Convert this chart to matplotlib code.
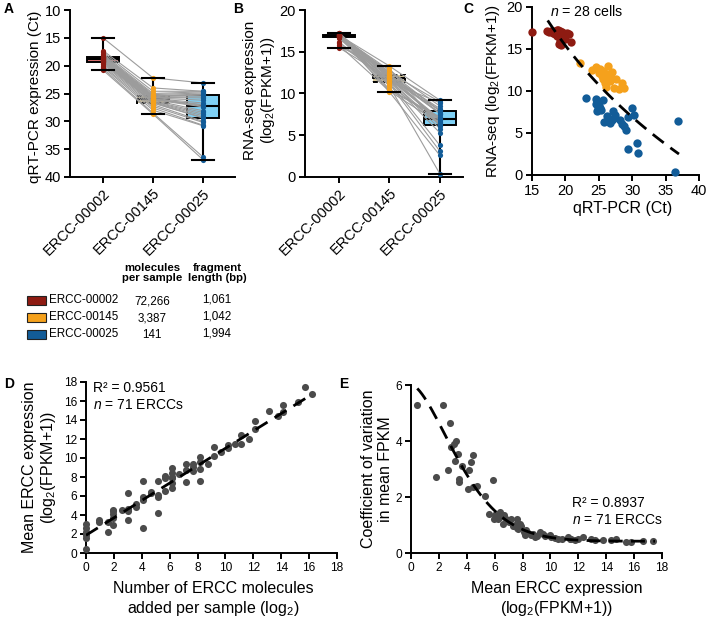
import numpy as np
import matplotlib
matplotlib.use("Agg")
import matplotlib.pyplot as plt
from matplotlib.patches import Rectangle

plt.rcParams['font.family'] = ['Liberation Sans', 'DejaVu Sans']
plt.rcParams['mathtext.fontset'] = 'custom'
plt.rcParams['mathtext.rm'] = 'Liberation Sans'
plt.rcParams['mathtext.it'] = 'Liberation Sans:italic'

# ---------------- data ----------------
erccs = ["ERCC-00002", "ERCC-00145", "ERCC-00025"]
molecules = ["72,266", "3,387", "141"]
frag_len = ["1,061", "1,042", "1,994"]

# per-cell qRT-PCR Ct (28 cells)
ct_00002 = [15.0, 17.3, 17.6, 17.9, 18.1, 18.2, 18.4, 18.4, 18.5, 18.6, 18.7, 18.7, 18.8, 18.8,
            18.8, 18.9, 19.0, 19.1, 19.2, 19.2, 19.3, 19.3, 19.5, 19.7, 20.0, 20.2, 20.5, 20.8]
ct_00145 = [22.2, 24.0, 24.6, 25.0, 25.2, 25.4, 25.5, 25.5, 25.6, 25.7, 25.8, 25.9, 26.0, 26.0,
            26.0, 26.1, 26.2, 26.4, 26.5, 26.6, 26.7, 26.7, 27.0, 27.3, 27.6, 28.0, 28.5, 28.7]
ct_00025 = [23.1, 24.6, 24.6, 24.7, 24.9, 25.1, 25.2, 25.3, 25.6, 25.8, 26.2, 26.7, 27.0, 27.1,
            27.3, 27.4, 28.1, 28.4, 28.7, 29.0, 29.3, 29.4, 30.0, 30.2, 30.7, 30.8, 36.4, 36.9]
# per-cell RNA-seq log2(FPKM+1)
rs_00002 = [17.0, 17.1, 17.0, 17.1, 17.0, 16.9, 17.2, 16.8, 17.0, 16.9, 17.3, 16.8, 17.0, 16.9,
            16.6, 17.3, 16.9, 15.6, 17.1, 16.0, 16.8, 15.5, 17.0, 16.9, 16.2, 16.9, 16.8, 15.8]
rs_00145 = [13.3, 12.5, 12.8, 12.2, 12.6, 12.1, 11.8, 12.2, 11.4, 12.4, 11.9, 11.6, 11.0, 12.0,
            11.7, 10.5, 12.0, 13.0, 11.6, 11.5, 11.2, 11.8, 12.3, 10.4, 11.4, 10.2, 10.9, 10.3]
rs_00025 = [9.2, 9.0, 8.5, 7.6, 7.9, 8.2, 8.0, 7.7, 8.9, 6.3, 7.0, 6.2, 6.5, 7.6,
            6.8, 7.2, 6.6, 6.1, 5.8, 5.3, 3.1, 6.9, 8.0, 7.1, 3.8, 2.6, 0.4, 6.4]

# panel C fit (log model coefficients)
c_fit_a, c_fit_b, c_fit_x0 = 18.4, -21.0, 17.35
c_fit_range = (17.35, 37.0)

# panel D: log2 molecules vs mean expression (71 ERCCs)
d_x = [15.7, 16.2, 15.2, 14.15, 14.15, 13.75, 13.15, 12.15, 12.15, 11.7, 11.15, 11.15, 10.7,
       10.15, 10.15, 9.7, 9.15, 9.15, 8.75, 8.15, 8.15, 8.15, 8.15, 7.65, 7.65, 7.15, 7.15, 7.15,
       6.7, 6.15, 6.15, 6.15, 6.15, 6.15, 5.65, 5.65, 5.15, 5.15, 5.15, 5.15, 4.65, 4.1, 4.1, 4.1,
       4.1, 3.6, 3.6, 3.0, 3.0, 3.0, 2.55, 1.95, 1.95, 1.95, 1.95, 1.6, 1.6, 0.95, 0.95, 0, 0, 0,
       0, 0, 6.15, 7.65, 5.65, 4.65, 1.95, 3.0, 0]
d_y = [17.45, 16.7, 15.9, 15.6, 14.85, 14.45, 15.0, 13.85, 13.05, 12.05, 12.4, 11.45, 11.45,
       11.35, 11.1, 10.6, 11.2, 10.2, 9.4, 10.1, 9.6, 8.8, 7.6, 9.4, 9.05, 9.4, 8.7, 7.5,
       8.3, 9.0, 8.45, 7.9, 7.4, 6.85, 8.1, 6.5, 7.6, 6.1, 5.9, 4.25, 6.45, 7.6, 5.9, 5.6,
       2.6, 5.2, 4.85, 6.3, 4.4, 3.5, 4.55, 4.5, 4.15, 3.7, 2.9, 3.25, 2.25, 3.5, 3.25, 3.1, 2.6, 1.9,
       1.6, 0.45, 8.0, 8.6, 7.9, 6.3, 4.4, 4.6, 2.2]
d_fit_intercept, d_fit_slope = 1.87, 0.915
d_fit_range = (0.0, 16.2)

# panel E: mean expression vs coefficient of variation
e_x = [0.4, 2.27, 2.8, 3.22, 3.08, 2.9, 3.39, 3.15, 3.63, 2.63, 1.79, 4.42, 4.27, 4.18, 3.46,
       3.46, 5.9, 4.1, 4.46, 4.7, 5.3,
       5.6, 5.94, 6.13, 6.37, 6.25, 6.6, 6.66, 7.2, 7.57, 7.45, 7.68, 7.8, 8.16, 8.28, 8.76, 8.88,
       9.24, 9.47, 9.95, 10.07, 10.55, 11.26, 11.38, 11.74, 12.34, 12.94, 13.77, 14.37, 14.73,
       15.8, 16.63, 17.35,
       6.0, 6.4, 6.8, 7.0, 7.3, 7.6, 7.9, 8.1, 8.4, 8.6, 9.0, 9.6, 10.3, 10.8, 11.5, 12.0, 13.2, 15.4]
e_y = [5.3, 5.3, 4.65, 4.0, 3.9, 3.8, 3.55, 3.3, 3.1, 2.95, 2.7, 3.5, 3.25, 2.95, 2.65,
       2.55, 2.6, 2.29, 2.35, 2.4, 2.05,
       1.39, 1.23, 1.41, 1.47, 1.23, 1.05, 1.35, 1.23, 1.23, 0.99, 0.87, 1.05, 0.63, 0.81, 0.69, 0.57,
       0.75, 0.69, 0.63, 0.57, 0.51, 0.57, 0.51, 0.45, 0.57, 0.51, 0.45, 0.45, 0.51,
       0.4, 0.43, 0.43,
       1.35, 1.3, 1.2, 1.1, 0.95, 0.9, 0.95, 0.75, 0.7, 0.65, 0.6, 0.6, 0.55, 0.5, 0.5, 0.5, 0.45, 0.4]
# stretched-exponential decay fit coefficients
e_fit_c, e_fit_a, e_fit_s, e_fit_p = 0.42, 5.6, 4.41, 1.6
e_fit_range = (0.45, 17.5)

# ---------------- style ----------------
W, H = 707, 620
pt_colors = ["#8e1b12", "#f5a11c", "#125c98"]
box_fill_A = ["#dd6f6f", "#d9c99a", "#7fd1f6"]
box_fill_B = ["#dd6f6f", "#d9c99a", "#7fd1f6"]
gray_pts = "#4b4b4b"
SP = 1.4

fig = plt.figure(figsize=(W / 100, H / 100), dpi=100)


def ax_px(l, t, r, b):
    return fig.add_axes([l / W, 1 - b / H, (r - l) / W, (b - t) / H])


def style(ax, fs):
    for s in ["top", "right"]:
        ax.spines[s].set_visible(False)
    for s in ["left", "bottom"]:
        ax.spines[s].set_linewidth(SP)
    ax.tick_params(width=SP, length=4.5, labelsize=fs, pad=2, color="black")


def box_panel(ax, data, fills, dashed):
    bp = ax.boxplot(data, positions=[0, 1, 2], widths=0.64, whis=(0, 100),
                    patch_artist=True, showfliers=False, capwidths=0.44,
                    medianprops=dict(color="black", lw=1.5),
                    whiskerprops=dict(color="black", lw=1.5),
                    capprops=dict(color="black", lw=1.5),
                    boxprops=dict(lw=1.4, edgecolor="black"), zorder=1)
    for patch, fc, d in zip(bp["boxes"], fills, dashed):
        patch.set_facecolor(fc)
        if d:
            patch.set_linestyle((0, (2.5, 1.5)))
    for cap in bp["caps"]:
        cap.set_zorder(4)
    n = len(data[0])
    for i in range(n):
        ax.plot([0, 1, 2], [data[0][i], data[1][i], data[2][i]], color="#9c9c9c",
                lw=0.8, zorder=2)
    for k in range(3):
        ax.scatter([k] * n, data[k], s=14, color=pt_colors[k], zorder=3, linewidths=0)
    ax.set_xticks([0, 1, 2])
    ax.set_xticklabels(erccs, rotation=45, ha="right", va="top", rotation_mode="anchor",
                       fontsize=10.5)


# Panel A
axA = ax_px(70, 10, 235, 177)
style(axA, 10.5)
box_panel(axA, [ct_00002, ct_00145, ct_00025], box_fill_A, [False, True, False])
axA.set_xlim(-0.66, 2.64)
axA.set_ylim(40, 10)
axA.set_yticks([10, 15, 20, 25, 30, 35, 40])
axA.set_ylabel("qRT-PCR expression (Ct)", fontsize=11)
axA.yaxis.set_label_coords(-0.17, 0.48)

# Panel B
axB = ax_px(305, 10, 463, 177)
style(axB, 10.5)
box_panel(axB, [rs_00002, rs_00145, rs_00025], box_fill_B, [False, True, False])
axB.set_xlim(-0.67, 2.46)
axB.set_ylim(0, 20)
axB.set_yticks([0, 5, 10, 15, 20])
axB.set_ylabel("RNA-seq expression\n(log$_\\mathregular{2}$(FPKM+1))", fontsize=11,
               linespacing=1.15)
axB.yaxis.set_label_coords(-0.175, 0.52)

# Panel C
axC = ax_px(532, 7, 699, 175)
style(axC, 10.5)
for xs, ys, c in [(ct_00002, rs_00002, pt_colors[0]), (ct_00145, rs_00145, pt_colors[1]),
                  (ct_00025, rs_00025, pt_colors[2])]:
    axC.scatter(xs, ys, s=36, color=c, linewidths=0, zorder=3, clip_on=False)
cx = np.linspace(c_fit_range[0], c_fit_range[1], 100)
axC.plot(cx, c_fit_a + c_fit_b * np.log(cx / c_fit_x0), color="black", lw=2,
         dashes=(5, 3), zorder=4)
axC.set_xlim(15, 40)
axC.set_ylim(0, 20)
axC.set_xticks([15, 20, 25, 30, 35, 40])
axC.set_yticks([0, 5, 10, 15, 20])
axC.set_xlabel("qRT-PCR (Ct)", fontsize=11.5)
axC.xaxis.set_label_coords(0.545, -0.155)
axC.set_ylabel("RNA-seq (log$_\\mathregular{2}$(FPKM+1))", fontsize=11)
axC.yaxis.set_label_coords(-0.18, 0.5)
axC.text(17.7, 19.5, "$\\mathit{n}$ = 28 cells", fontsize=10.2, ha="left", va="center")

# Legend table
fs_leg = 8.4
fig.text(152 / W, 1 - 273 / H, "molecules\nper sample", fontsize=8.2, fontweight="bold",
         ha="center", va="center", linespacing=1.1)
fig.text(217 / W, 1 - 273 / H, "fragment\nlength (bp)", fontsize=8.2, fontweight="bold",
         ha="center", va="center", linespacing=1.1)
rows_y = [300, 317, 334]
for i, yy in enumerate(rows_y):
    fig.patches.append(Rectangle((27 / W, 1 - (yy + 4.5) / H), 19 / W, 9 / H,
                                 transform=fig.transFigure, facecolor=pt_colors[i],
                                 edgecolor="#222222", lw=0.8))
    fig.text(49 / W, 1 - yy / H, erccs[i], fontsize=fs_leg, ha="left", va="center")
    fig.text(152 / W, 1 - (yy + 1.5) / H, molecules[i], fontsize=fs_leg, ha="center",
             va="center")
    fig.text(217 / W, 1 - yy / H, frag_len[i], fontsize=fs_leg, ha="center", va="center")

# Panel D
axD = ax_px(86, 382, 337, 553)
style(axD, 8.6)
axD.scatter(d_x, d_y, s=26, color=gray_pts, linewidths=0, zorder=3, clip_on=False)
dx_fit = np.array(d_fit_range)
axD.plot(dx_fit, d_fit_intercept + d_fit_slope * dx_fit, color="black", lw=2,
         dashes=(5, 3), zorder=4)
axD.set_xlim(0, 18)
axD.set_ylim(0, 18)
axD.set_xticks(range(0, 19, 2))
axD.set_yticks(range(0, 19, 2))
axD.set_xlabel("Number of ERCC molecules\nadded per sample (log$_\\mathregular{2}$)",
               fontsize=11.5, linespacing=1.2)
axD.xaxis.set_label_coords(0.506, -0.165)
axD.set_ylabel("Mean ERCC expression\n(log$_\\mathregular{2}$(FPKM+1))", fontsize=11.5,
               linespacing=1.15)
axD.yaxis.set_label_coords(-0.112, 0.5)
axD.text(0.5, 17.4, "R² = 0.9561", fontsize=10, ha="left", va="center")
axD.text(0.5, 15.6, "$\\mathit{n}$ = 71 ERCCs", fontsize=10, ha="left", va="center")

# Panel E
axE = ax_px(411, 385, 662, 553)
style(axE, 8.6)
axE.scatter(e_x, e_y, s=26, color=gray_pts, linewidths=0, zorder=3, clip_on=False)
ex_fit = np.linspace(e_fit_range[0], e_fit_range[1], 200)
axE.plot(ex_fit, e_fit_c + e_fit_a * np.exp(-(ex_fit / e_fit_s) ** e_fit_p), color="black",
         lw=2, dashes=(5, 3), zorder=4)
axE.set_xlim(0, 18)
axE.set_ylim(0, 6)
axE.set_xticks(range(0, 19, 2))
axE.set_yticks([0, 2, 4, 6])
axE.set_xlabel("Mean ERCC expression\n(log$_\\mathregular{2}$(FPKM+1))", fontsize=11.5,
               linespacing=1.2)
axE.xaxis.set_label_coords(0.58, -0.165)
axE.set_ylabel("Coefficient of variation\nin mean FPKM", fontsize=11.5, linespacing=1.15)
axE.yaxis.set_label_coords(-0.072, 0.5)
axE.text(11.55, 1.79, "R² = 0.8937", fontsize=10, ha="left", va="center")
axE.text(11.55, 1.18, "$\\mathit{n}$ = 71 ERCCs", fontsize=10, ha="left", va="center")

# panel letters
for lab, x, y in [("A", 4, 9), ("B", 233, 9), ("C", 463, 9), ("D", 4, 384), ("E", 339, 384)]:
    fig.text(x / W, 1 - y / H, lab, fontsize=10, fontweight="bold", ha="left", va="center")

fig.savefig("out.png", dpi=100)
